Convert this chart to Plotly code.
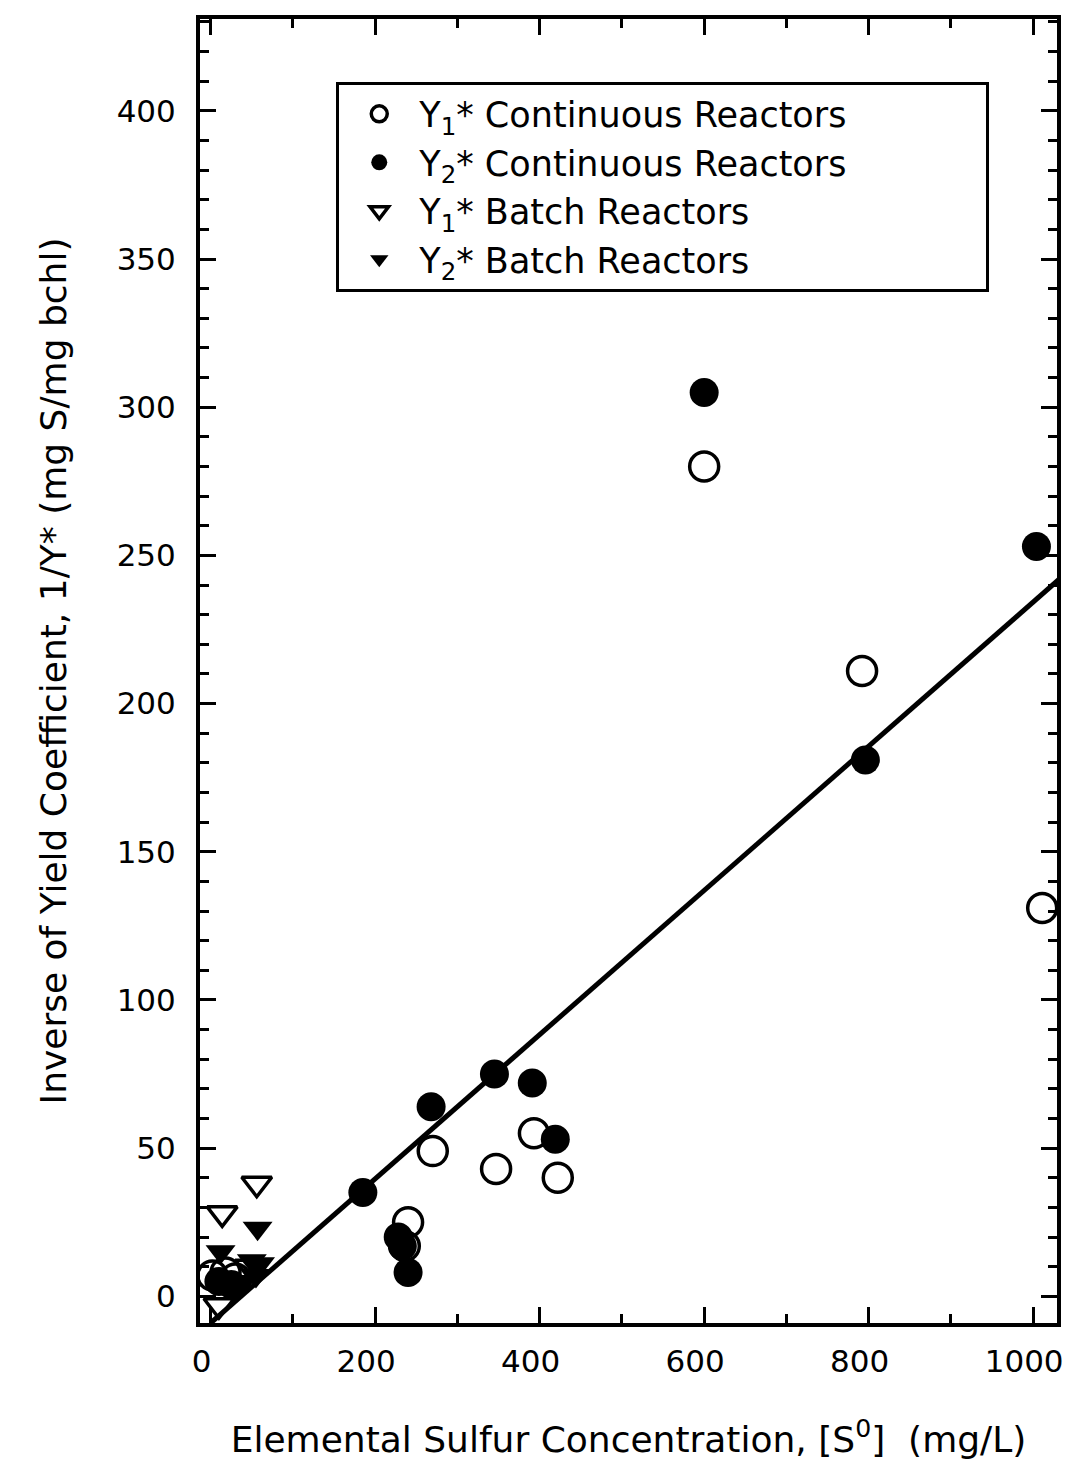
import plotly.graph_objects as go

# Y1* continuous reactors (open circles)
y1_cont_x = [600, 792, 1011, 270, 347, 393, 422, 240, 236, 2, 18, 30]
y1_cont_y = [280, 211, 131, 49, 43, 55, 40, 25, 17, 7, 8, 6]
# Y2* continuous reactors (filled circles)
y2_cont_x = [600, 1004, 796, 185, 268, 345, 391, 419, 228, 233, 240, 10, 25]
y2_cont_y = [305, 253, 181, 35, 64, 75, 72, 53, 20, 17, 8, 5, 4]
# Y1* batch reactors (open down-triangles)
y1_batch_x = [14, 56, 10, 48]
y1_batch_y = [28, 38, -3, 10]
# Y2* batch reactors (filled down-triangles)
y2_batch_x = [57, 12, 50, 60, 55, 30, 40]
y2_batch_y = [23, 15, 12, 11, 7, 3, 5]
# regression line
line_x = [0, 1040]
line_y = [-9, 244]

PAD = "\u00a0" * 12
FONT = "DejaVu Sans"
fig = go.Figure()
fig.add_trace(go.Scatter(x=line_x, y=line_y, mode="lines",
                         line=dict(color="black", width=5), showlegend=False, hoverinfo="skip"))
fig.add_trace(go.Scatter(x=y1_cont_x, y=y1_cont_y, mode="markers",
                         name="Y<sub>1</sub>* Continuous Reactors" + PAD,
                         marker=dict(symbol="circle-open", size=29, color="black", line=dict(width=3.5, color="black"))))
fig.add_trace(go.Scatter(x=y2_cont_x, y=y2_cont_y, mode="markers",
                         name="Y<sub>2</sub>* Continuous Reactors",
                         marker=dict(symbol="circle", size=29, color="black")))
fig.add_trace(go.Scatter(x=y1_batch_x, y=y1_batch_y, mode="markers",
                         name="Y<sub>1</sub>* Batch Reactors",
                         marker=dict(symbol="triangle-down-open", size=26, color="black", line=dict(width=3.5, color="black"))))
fig.add_trace(go.Scatter(x=y2_batch_x, y=y2_batch_y, mode="markers",
                         name="Y<sub>2</sub>* Batch Reactors",
                         marker=dict(symbol="triangle-down", size=26, color="black")))

axis_common = dict(showgrid=False, zeroline=False, showline=True, linecolor="black", linewidth=4,
                   mirror="allticks", ticks="inside", tickcolor="black", tickwidth=3, ticklen=16,
                   tickfont=dict(family=FONT, size=31, color="black"))
fig.update_xaxes(range=[-13, 1029], tickmode="array", tickvals=[0, 200, 400, 600, 800, 1000],
                 minor=dict(dtick=100, tick0=0, ticks="inside", ticklen=9, tickwidth=3, tickcolor="black"),
                 ticklabelstandoff=8, ticklabelshift=-9,
                 title=dict(text="Elemental Sulfur Concentration, [S<sup>0</sup>]  (mg/L)",
                            font=dict(family=FONT, size=36, color="black"), standoff=50),
                 **axis_common)
fig.update_yaxes(range=[-9, 431], tickmode="array", tickvals=[0, 50, 100, 150, 200, 250, 300, 350, 400],
                 minor=dict(dtick=10, tick0=0, ticks="inside", ticklen=9, tickwidth=3, tickcolor="black"),
                 ticklabelstandoff=14,
                 title=dict(text="Inverse of Yield Coefficient, 1/Y* (mg S/mg bchl)",
                            font=dict(family=FONT, size=36, color="black"), standoff=40),
                 **axis_common)
fig.update_layout(
    width=1080, height=1477,
    margin=dict(l=192, r=31, t=7, b=162),
    plot_bgcolor="white", paper_bgcolor="white",
    font=dict(family=FONT, color="black"),
    legend=dict(x=0.159, y=0.952, xanchor="left", yanchor="top",
                bordercolor="black", borderwidth=3, bgcolor="white",
                font=dict(family=FONT, size=35, color="black"), itemwidth=70,
                tracegroupgap=0),
)
fig.write_html("out.html")
